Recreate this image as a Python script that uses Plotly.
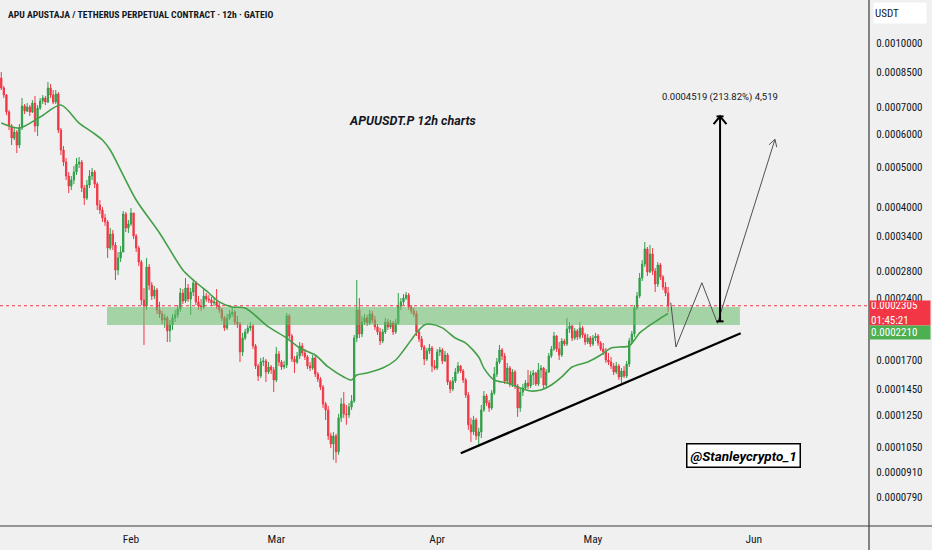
import numpy as np
import pandas as pd
import plotly.graph_objects as go

# ------------------ 1. Candles (12h bars, prices in 1e-7 USDT) ------------------
candle_start = "2025-01-07 00:00"
first_open_e7 = 8215

close_e7 = [
    7770, 7471, 6795, 6284, 5877, 6077, 5652, 6214, 7026, 6833,
    6987, 6795, 7144, 6284, 6948, 7225, 7347, 7184, 7769, 7471,
    7184, 7512, 6145, 5496, 5140, 4754, 4496, 4649, 4861, 5083,
    5140, 4446, 4205, 4521, 4754, 4861, 4546, 4045, 3933, 3761,
    3679, 3181, 3440, 3235, 2814, 3009, 3111, 3846, 3558, 3638,
    3868, 3402, 3181, 2942, 2381, 2302, 2861, 2588, 2433, 2517,
    2252, 2202, 2129, 2154, 2003, 2071, 2154, 2190, 2264, 2475,
    2368, 2545, 2393, 2489, 2617, 2355, 2302, 2289, 2433, 2393,
    2381, 2341, 2355, 2302, 2252, 2154, 2037, 2154, 2202, 2227,
    2105, 2082, 1781, 1925, 1992, 2037, 2059, 1842, 1647, 1557,
    1684, 1694, 1593, 1638, 1611, 1523, 1761, 1684, 1638, 1656,
    2178, 1947, 1712, 1684, 1741, 1842, 1771, 1732, 1647, 1628,
    1722, 1575, 1531, 1465, 1333, 1289, 1115, 1066, 1115, 1020,
    1233, 1333, 1261, 1254, 1310, 1355, 1925, 2252, 1969, 2105,
    2154, 2094, 2202, 2129, 2048, 1992, 1893, 1992, 2105, 2048,
    2094, 1992, 2094, 2302, 2355, 2406, 2447, 2289, 2239, 2202,
    1992, 1915, 1831, 1712, 1791, 1821, 1647, 1628, 1781, 1801,
    1694, 1751, 1506, 1448, 1515, 1593, 1647, 1602, 1523, 1401,
    1186, 1140, 1219, 1115, 1140, 1289, 1393, 1340, 1303, 1416,
    1575, 1684, 1801, 1741, 1515, 1628, 1490, 1593, 1473, 1303,
    1424, 1456, 1498, 1473, 1566, 1584, 1490, 1611, 1628, 1481,
    1593, 1741, 1811, 1947, 1811, 1751, 1893, 1862, 2025, 2059,
    1925, 2003, 1936, 2037, 1958, 1883, 1925, 1862, 1925, 1947,
    1872, 1811, 1781, 1703, 1684, 1647, 1593, 1647, 1549, 1602,
    1557, 1665, 1893, 1969, 2277, 2433, 2691, 2909, 3164, 2783,
    3077, 2798, 2602, 2893, 2706, 2559, 2475, 2305,
]

high_e7 = [
    8495, 7856, 7512, 6871, 6354, 6214, 6145, 6354, 7347, 7104,
    7144, 7065, 7265, 7429, 7065, 7347, 7471, 7429, 8034, 7945,
    7682, 7682, 7597, 6214, 5621, 5256, 4861, 4754, 5027, 5256,
    5286, 5198, 4521, 4649, 4916, 4971, 4916, 4597, 4159, 4000,
    3846, 3720, 3558, 3518, 3290, 3111, 3217, 3911, 3889, 3720,
    3978, 3825, 3440, 3217, 2975, 2545, 3009, 2909, 2631, 2574,
    2545, 2355, 2239, 2202, 2178, 2129, 2202, 2252, 2315, 2545,
    2531, 2691, 2602, 2545, 2676, 2646, 2433, 2393, 2545, 2475,
    2447, 2420, 2406, 2531, 2341, 2277, 2178, 2202, 2252, 2277,
    2252, 2178, 2105, 1981, 2025, 2071, 2105, 2082, 1862, 1665,
    1722, 1732, 1712, 1684, 1656, 1638, 1831, 1791, 1703, 1694,
    2215, 2202, 1969, 1741, 1781, 1883, 1872, 1811, 1751, 1684,
    1751, 1741, 1593, 1549, 1481, 1348, 1318, 1134, 1140, 1128,
    1261, 1378, 1424, 1325, 1340, 1401, 1958, 2661, 2406, 2178,
    2202, 2190, 2252, 2239, 2178, 2082, 2037, 2025, 2154, 2142,
    2129, 2117, 2142, 2475, 2406, 2461, 2489, 2475, 2315, 2277,
    2239, 2014, 1947, 1852, 1821, 1862, 1842, 1703, 1811, 1831,
    1821, 1791, 1771, 1523, 1549, 1628, 1684, 1656, 1619, 1540,
    1424, 1233, 1247, 1233, 1166, 1325, 1432, 1409, 1362, 1440,
    1638, 1722, 1852, 1821, 1771, 1675, 1647, 1619, 1611, 1490,
    1456, 1490, 1523, 1611, 1602, 1611, 1593, 1675, 1656, 1638,
    1619, 1771, 1842, 1992, 1958, 1883, 1925, 1915, 2154, 2105,
    2071, 2037, 2025, 2105, 2059, 1981, 1969, 1947, 1958, 1981,
    1969, 1893, 1872, 1821, 1771, 1732, 1675, 1684, 1665, 1628,
    1647, 1694, 1925, 2003, 2315, 2489, 2767, 2975, 3290, 3199,
    3235, 3181, 2845, 2942, 2926, 2736, 2631, 2559,
]

low_e7 = [
    7682, 7347, 6682, 6145, 5652, 5812, 5405, 5558, 6145, 6719,
    6795, 6645, 6757, 6077, 5943, 6871, 7104, 7065, 7144, 7347,
    7104, 7104, 6043, 5345, 5027, 4649, 4324, 4397, 4546, 4781,
    4971, 4348, 4045, 4159, 4446, 4649, 4446, 3933, 3846, 3679,
    3598, 3009, 3146, 3146, 2661, 2736, 2942, 3111, 3479, 3460,
    3598, 3345, 3111, 2877, 2315, 1852, 2252, 2517, 2381, 2393,
    2202, 2154, 2082, 2037, 1883, 1883, 2014, 2105, 2154, 2227,
    2328, 2341, 2355, 2190, 2433, 2315, 2252, 2239, 2264, 2355,
    2341, 2302, 2302, 2264, 2215, 2117, 2003, 2014, 2129, 2166,
    2071, 2037, 1684, 1741, 1904, 1969, 2003, 1811, 1619, 1515,
    1540, 1647, 1506, 1575, 1575, 1424, 1506, 1647, 1611, 1619,
    1628, 1915, 1684, 1584, 1665, 1712, 1741, 1703, 1619, 1602,
    1611, 1549, 1506, 1440, 1303, 1219, 1090, 1042, 975, 959,
    1003, 1205, 1233, 1186, 1233, 1289, 1340, 1883, 1925, 1936,
    2071, 2059, 2071, 2094, 2014, 1958, 1852, 1872, 1969, 2014,
    2025, 1958, 1969, 2071, 2252, 2315, 2381, 2252, 2202, 2166,
    1947, 1883, 1801, 1656, 1694, 1761, 1593, 1611, 1611, 1741,
    1665, 1684, 1481, 1416, 1432, 1498, 1575, 1584, 1498, 1378,
    1153, 1078, 1121, 1090, 1048, 1102, 1275, 1318, 1275, 1289,
    1401, 1549, 1665, 1703, 1490, 1498, 1465, 1465, 1448, 1240,
    1275, 1393, 1440, 1448, 1456, 1481, 1473, 1473, 1540, 1456,
    1465, 1584, 1722, 1791, 1781, 1703, 1732, 1842, 1842, 1981,
    1893, 1904, 1904, 1915, 1925, 1852, 1862, 1831, 1842, 1893,
    1842, 1791, 1751, 1675, 1656, 1619, 1566, 1575, 1523, 1498,
    1540, 1540, 1638, 1872, 1936, 2252, 2406, 2646, 2861, 2721,
    2767, 2736, 2489, 2559, 2661, 2517, 2433, 2227,
]

# ------------------ 2. Moving average ------------------
ma_dates = [
    "2025-01-07 00:00", "2025-01-10 12:00", "2025-01-14 12:00", "2025-01-18 12:00",
    "2025-01-22 00:00", "2025-01-24 12:00", "2025-01-26 12:00", "2025-01-28 00:00",
    "2025-01-30 00:00", "2025-02-02 00:00", "2025-02-06 12:00", "2025-02-11 00:00",
    "2025-02-13 00:00", "2025-02-16 00:00", "2025-02-18 00:00", "2025-02-20 12:00",
    "2025-02-23 00:00", "2025-02-27 12:00", "2025-03-03 00:00", "2025-03-05 12:00",
    "2025-03-08 12:00", "2025-03-11 00:00", "2025-03-14 00:00", "2025-03-15 12:00",
    "2025-03-16 12:00", "2025-03-18 12:00", "2025-03-21 12:00", "2025-03-24 00:00",
    "2025-03-26 00:00", "2025-03-28 00:00", "2025-03-29 12:00", "2025-03-30 12:00",
    "2025-04-02 00:00", "2025-04-04 12:00", "2025-04-06 12:00", "2025-04-09 00:00",
    "2025-04-10 00:00", "2025-04-12 00:00", "2025-04-14 12:00", "2025-04-17 00:00",
    "2025-04-19 00:00", "2025-04-21 00:00", "2025-04-23 00:00", "2025-04-25 00:00",
    "2025-04-27 00:00", "2025-04-30 00:00", "2025-05-02 12:00", "2025-05-04 12:00",
    "2025-05-06 00:00", "2025-05-08 00:00", "2025-05-09 00:00", "2025-05-10 00:00",
    "2025-05-11 12:00", "2025-05-13 12:00", "2025-05-15 12:00",
]
ma_e7 = [
    6390, 6214, 6608, 7065, 6390, 6077, 5812, 5496,
    4916, 4159, 3460, 2814, 2661, 2475, 2355, 2289,
    2277, 2048, 1925, 1821, 1751, 1638, 1549, 1523,
    1566, 1584, 1628, 1703, 1831, 1981, 2071, 2082,
    2037, 1925, 1872, 1732, 1628, 1523, 1498, 1456,
    1432, 1440, 1481, 1549, 1638, 1684, 1751, 1821,
    1831, 1842, 1904, 1981, 2048, 2129, 2210,
]

# ------------------ 3. Drawings ------------------
zone_dates = ["2025-01-27 09:00", "2025-05-29 08:00"]
zone_e7 = [2071, 2289]

trend_dates = ["2025-04-05 13:00", "2025-05-29 11:30"]
trend_e7 = [1012, 1977]

path_dates = ["2025-05-16 00:00", "2025-05-17 00:00", "2025-05-22 00:00",
              "2025-05-25 00:00", "2025-06-05 02:00"]
path_e7 = [2345, 1831, 2621, 2090, 5835]

measure_date = "2025-05-25 12:00"
measure_e7 = [2113, 6632]

tick_prices = [0.0010000, 0.0008500, 0.0007000, 0.0006000, 0.0005000, 0.0004000,
               0.0003400, 0.0002800, 0.0002400, 0.0001700, 0.0001450, 0.0001250,
               0.0001050, 0.0000910, 0.0000790]
month_ticks = ["2025-02-01", "2025-03-01", "2025-04-01", "2025-05-01", "2025-06-01"]
month_labels = ["Feb", "Mar", "Apr", "May", "Jun"]

# ------------------ 4. Geometry ------------------
PLOT_W, PLOT_H = 869, 526
X0, X1 = pd.Timestamp("2025-01-06 18:14"), pd.Timestamp("2025-06-23 04:48")
Y0, Y1 = -4.1711, -2.8963
DAY = pd.Timedelta(days=1)
px_day = PLOT_W / ((X1 - X0) / DAY)
px_dec = PLOT_H / (Y1 - Y0)

BG = "#f0f0f0"
UP, DOWN = "#2e9e47", "#f23645"
INK = "#131722"
NARROW = "Liberation Sans Narrow, Arial Narrow, Roboto Condensed, Roboto"


def e7(v):
    return np.array(v, dtype=float) * 1e-7


def to_px(t, p):
    return (pd.Timestamp(t) - X0) / DAY * px_day, (np.log10(p) - Y0) * px_dec


def from_px(x, y):
    return X0 + pd.Timedelta(days=x / px_day), 10 ** (Y0 + y / px_dec)


def chevron(tip_t, tip_p, tail_t, tail_p, size, ang):
    tx, ty = to_px(tip_t, tip_p)
    sx, sy = to_px(tail_t, tail_p)
    d = np.array([sx - tx, sy - ty])
    d /= np.hypot(*d)
    xs, ys = [], []
    for a in (ang, 0, -ang):
        if a == 0:
            qx, qy = tx, ty
        else:
            r = np.radians(a)
            wx = d[0] * np.cos(r) - d[1] * np.sin(r)
            wy = d[0] * np.sin(r) + d[1] * np.cos(r)
            qx, qy = tx + size * wx, ty + size * wy
        t, p = from_px(qx, qy)
        xs.append(t)
        ys.append(p)
    return xs, ys


times = pd.date_range(candle_start, periods=len(close_e7), freq="12h")
close = e7(close_e7)
open_ = np.concatenate([[first_open_e7 * 1e-7], close[:-1]])

fig = go.Figure()

# support zone
zx = [zone_dates[0], zone_dates[1], zone_dates[1], zone_dates[0], zone_dates[0]]
zy = e7([zone_e7[0], zone_e7[0], zone_e7[1], zone_e7[1], zone_e7[0]])
fig.add_trace(go.Scatter(x=zx, y=zy, mode="lines", fill="toself",
                         fillcolor="rgba(102,187,106,0.55)", line=dict(width=0),
                         hoverinfo="skip"))

# last price line
fig.add_trace(go.Scatter(x=[X0, X1], y=[close[-1], close[-1]], mode="lines",
                         line=dict(color=DOWN, width=1, dash="dot"), hoverinfo="skip"))

fig.add_trace(go.Candlestick(
    x=times, open=open_, high=e7(high_e7), low=e7(low_e7), close=close,
    increasing=dict(line=dict(color=UP, width=1), fillcolor=UP),
    decreasing=dict(line=dict(color=DOWN, width=1), fillcolor=DOWN),
    whiskerwidth=0,
))

fig.add_trace(go.Scatter(x=pd.to_datetime(ma_dates), y=e7(ma_e7), mode="lines",
                         line=dict(color="#43a047", width=1.6, shape="spline", smoothing=0.8),
                         hoverinfo="skip"))

# rising trend line
fig.add_trace(go.Scatter(x=pd.to_datetime(trend_dates), y=e7(trend_e7), mode="lines",
                         line=dict(color="#000000", width=2.4), hoverinfo="skip"))

# projected path with arrow head
fig.add_trace(go.Scatter(x=pd.to_datetime(path_dates), y=e7(path_e7), mode="lines",
                         line=dict(color="#505050", width=1), hoverinfo="skip"))
hx, hy = chevron(path_dates[-1], path_e7[-1] * 1e-7, path_dates[-2], path_e7[-2] * 1e-7, 8, 30)
fig.add_trace(go.Scatter(x=hx, y=hy, mode="lines", line=dict(color="#505050", width=1),
                         hoverinfo="skip"))

# price range measurement
m_lo, m_hi = measure_e7[0] * 1e-7, measure_e7[1] * 1e-7
fig.add_trace(go.Scatter(x=[measure_date, measure_date], y=[m_lo, m_hi], mode="lines",
                         line=dict(color="#000000", width=2), hoverinfo="skip"))
cap = pd.Timedelta(days=3.5 / px_day)
mt = pd.Timestamp(measure_date)
for p in (m_lo, m_hi):
    fig.add_trace(go.Scatter(x=[mt - cap, mt + cap], y=[p, p], mode="lines",
                             line=dict(color="#000000", width=2), hoverinfo="skip"))
cx, cy = chevron(measure_date, m_hi, measure_date, m_lo, 10, 40)
fig.add_trace(go.Scatter(x=cx, y=cy, mode="lines", line=dict(color="#000000", width=2),
                         hoverinfo="skip"))


def py(pix):
    return (PLOT_H - pix) / PLOT_H


def px(pix):
    return pix / PLOT_W


annotations = [
    dict(x=px(6), y=py(14), xanchor="left", yanchor="middle",
         text="<b>APU APUSTAJA / TETHERUS PERPETUAL CONTRACT · 12h · GATEIO</b>",
         font=dict(family=NARROW, size=9.7, color=INK)),
    dict(x=px(412.5), y=py(120.5), xanchor="center", yanchor="middle",
         text="<b><i>APUUSDT.P 12h charts</i></b>",
         font=dict(family="Roboto", size=12.5, color=INK)),
    dict(x=px(720), y=py(97.3), xanchor="center", yanchor="middle",
         text="0.0004519 (213.82%) 4,519",
         font=dict(family="Roboto", size=9.5, color=INK)),
    dict(x=px(743.5), y=py(455.5), xanchor="center", yanchor="middle",
         text="<b><i>@Stanleycrypto_1</i></b>",
         font=dict(family="Roboto", size=13.5, color="#000000"),
         bgcolor="#ffffff", bordercolor="#000000", borderwidth=1.5, borderpad=3),
    dict(x=px(873), y=py(13), xanchor="left", yanchor="middle", text="USDT",
         width=50, height=18, align="left",
         font=dict(family=NARROW, size=11, color=INK), bgcolor="#ffffff", borderpad=1),
    dict(x=1.0, y=py(312.9), xanchor="left", yanchor="middle",
         text="0.0002305<br>01:45:21", width=58, height=22, align="left",
         font=dict(family=NARROW, size=11, color="#ffffff"), bgcolor=DOWN, borderpad=1),
    dict(x=1.0, y=py(332), xanchor="left", yanchor="middle",
         text="0.0002210", width=58, height=11, align="left",
         font=dict(family=NARROW, size=11, color="#ffffff"), bgcolor="#4caf50", borderpad=1),
]
for a in annotations:
    a.update(xref="paper", yref="paper", showarrow=False)

fig.update_layout(
    width=932, height=550,
    margin=dict(l=0, r=63, t=0, b=24),
    paper_bgcolor=BG, plot_bgcolor=BG,
    showlegend=False,
    annotations=annotations,
    shapes=[
        dict(type="line", xref="paper", yref="paper", x0=0, x1=932 / PLOT_W, y0=0, y1=0,
             line=dict(color="#3a3a3a", width=1.2)),
        dict(type="line", xref="paper", yref="paper", x0=1, x1=1, y0=-24 / PLOT_H, y1=1,
             line=dict(color="#3a3a3a", width=1.2)),
    ],
    xaxis=dict(type="date", range=[X0, X1], rangeslider=dict(visible=False),
               tickvals=month_ticks, ticktext=month_labels, showgrid=False, zeroline=False,
               ticks="", ticklabelstandoff=4,
               tickfont=dict(family=NARROW, size=11.5, color=INK)),
    yaxis=dict(type="log", side="right", range=[Y0, Y1], tickvals=tick_prices,
               ticktext=[f"{v:.7f}" for v in tick_prices], showgrid=False, zeroline=False,
               ticks="outside", ticklen=4, tickcolor=BG,
               tickfont=dict(family=NARROW, size=11, color=INK)),
    font=dict(family="Roboto"),
)

fig.write_html("out.html", config={"displayModeBar": False},
               post_script="document.body.style.margin='0';document.body.style.overflow='hidden';")
